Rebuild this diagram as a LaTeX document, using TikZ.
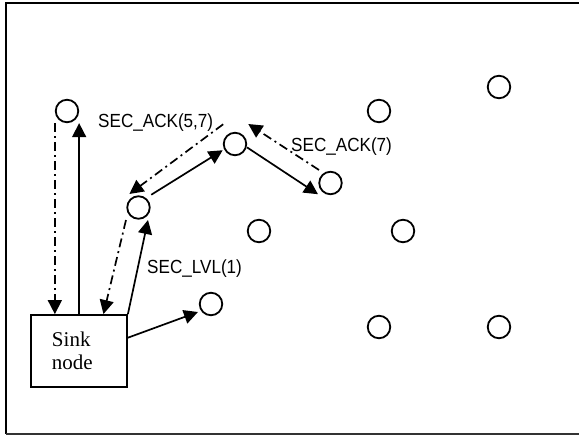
\documentclass[tikz,border=0pt]{standalone}
\usepackage{fontspec}
\setmainfont{Liberation Serif}
\newfontfamily\labelfont[FakeStretch=0.9]{Liberation Sans}
\usetikzlibrary{arrows.meta,calc}
\begin{document}
\begin{tikzpicture}[x=1pt,y=-1pt,
  sensor/.style={circle,draw,line width=1.8pt,minimum size=22.5pt,inner sep=0pt},
  sinkbox/.style={draw,line width=1.8pt,minimum width=96pt,minimum height=72pt,
    align=left,text width=54pt,inner sep=0pt,font=\fontsize{21}{23}\selectfont},
  msg/.style={font=\labelfont\fontsize{19}{21}\selectfont,anchor=base west,inner sep=0pt},
  link/.style={line width=1.7pt,-{Triangle[length=14pt,width=14pt]}},
  reply/.style={link,dash pattern=on 9pt off 4pt on 2pt off 4pt}]
\useasboundingbox (0,0) rectangle (579,435);

% outer frame (open on the right)
\draw[line width=2.2pt] (590,3) -- (6,3) -- (6,434);
\draw[line width=1.3pt,black!80] (6,434) -- (590,434);

% sensor field
\node[sensor] (A) at (67,111) {};
\node[sensor] (B) at (235,144) {};
\node[sensor] (C) at (138.5,207.5) {};
\node[sensor] (D) at (330.5,183) {};
\node[sensor] (E) at (379,111) {};
\node[sensor] (F) at (499,87) {};
\node[sensor] (G) at (403,231) {};
\node[sensor] (H) at (379,327) {};
\node[sensor] (I) at (499,327) {};
\node[sensor] (J) at (259,231) {};
\node[sensor] (K) at (211,304) {};

% sink
\node[sinkbox] (sink) at (79,351) {Sink\\node};

% level broadcast from the sink
\draw[link] (sink.north -| A.east) -- (A.south -| A.east);
\draw[link] (sink.north east) -- ($(C)+(-52.8:15.7pt)$);
\draw[link] ($(sink.north east)!0.64!(sink.east)$) -- ($(K)+(211.6:15.3pt)$);
\draw[link] ($(C)+(45:18pt)$) -- ($(B)+(207:13.8pt)$);
\draw[link] ($(B)+(-15.7:12.5pt)$) -- ($(D)+(222:16.8pt)$);

% acknowledgements back to the sink
\draw[reply] (A.south -| A.west) -- (sink.north -| A.west);
\draw[reply] ($(C)+(225:17.7pt)$) -- ($(sink.north)!0.5!(sink.north east)$);
\draw[reply] ($(B)+(121:23pt)$) -- ($(C)+(124:16.3pt)$);
\draw[reply] ($(D)+(131.5:17.4pt)$) -- ($(B)+(56.4:24pt)$);

% message labels
\node[msg] (ack57) at (98,128) {SEC\_ACK(5,7)};
\node[msg] (ack7) at (291,151.7) {SEC\_ACK(7)};
\node[msg] (lvl1) at (147,274) {SEC\_LVL(1)};
\end{tikzpicture}
\end{document}
